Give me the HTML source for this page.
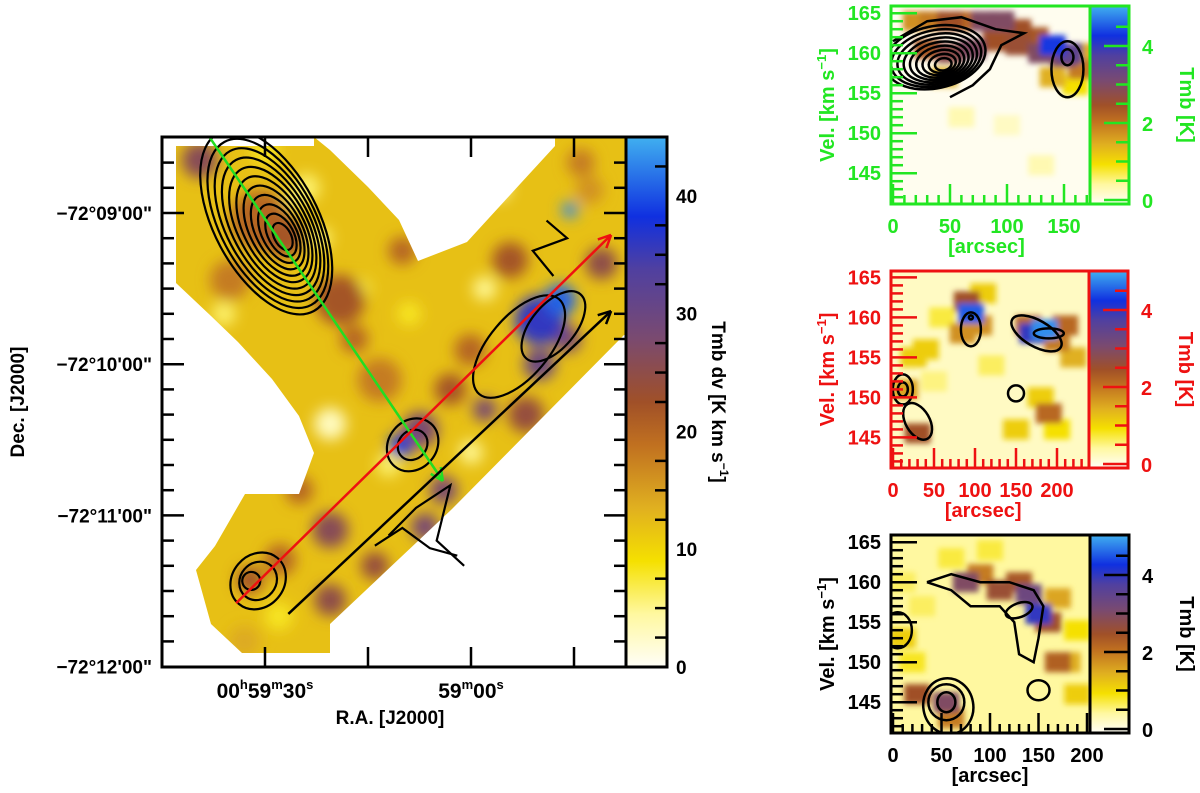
<!DOCTYPE html>
<html><head><meta charset="utf-8"><style>
html,body{margin:0;padding:0;background:#fff;}
svg{display:block;font-family:"Liberation Sans",sans-serif;font-weight:bold;}
</style></head><body>
<svg id="fig" width="1200" height="793" viewBox="0 0 1200 793" xmlns="http://www.w3.org/2000/svg">
<defs>
<filter id="blur" x="-50%" y="-50%" width="200%" height="200%"><feGaussianBlur stdDeviation="7"/></filter>
<filter id="blurS" x="-50%" y="-50%" width="200%" height="200%"><feGaussianBlur stdDeviation="3"/></filter>
<clipPath id="cMain"><rect x="162" y="137" width="464" height="530"/></clipPath>
<clipPath id="cP1"><rect x="891" y="6" width="199" height="198"/></clipPath>
<clipPath id="cP2"><rect x="891" y="271" width="198" height="197"/></clipPath>
<clipPath id="cP3"><rect x="891" y="535" width="199" height="198"/></clipPath>
<linearGradient id="cbg" x1="0" y1="1" x2="0" y2="0">
<stop offset="0" stop-color="#fffef8"/><stop offset="0.1" stop-color="#fff8a0"/><stop offset="0.2" stop-color="#f5e000"/><stop offset="0.3" stop-color="#e0b020"/><stop offset="0.42" stop-color="#c07020"/><stop offset="0.5" stop-color="#a05028"/><stop offset="0.62" stop-color="#7a4a70"/><stop offset="0.75" stop-color="#5040a0"/><stop offset="0.85" stop-color="#1030e0"/><stop offset="1" stop-color="#40b0f0"/>
</linearGradient>
</defs>
</svg>
<script>
// ---------- data ----------
const decTickLabels = ["\u221272\u00b009'00\"","\u221272\u00b010'00\"","\u221272\u00b011'00\"","\u221272\u00b012'00\""];
const decTickValues = [0,60,120,180];
const raTickValues = [30,15,0,-15];
const mainCbTicks = [0,10,20,30,40];
const mainBase = 12;
// main map emission blobs: RA seconds, Dec offset arcsec, value
const blobRa  = [30.7,39.5,19.1,35.1,13.3,7.4,10.3,-10.0,-13.0,-14.4,-5.7,-17.3,20.5,27.8,20.5,32.2,0.1,6.7,20.5,27.2,24,-8, 36,30,22,17,3,-2,-16,-19,12,25,14,4,-10,0,9,16,33,28,-14,-4,26,10,-2];
const blobDec = [2.8,-21,34.5,26.6,66.3,86,92.5,42.5,34.5,-1.2,18.7,-9.1,125.8,137.7,153.6,145.6,54.4,124.6,83.7,9.9,-10,80, 40,-25,10,50,70,30,-20,20,100,110,140,110,60,95,40,30,170,160,50,-10,-5,15,78];
const blobVal = [20,26,22,18,18,28,38,36,41,43,22,16,26,20,25,22,20,28,3,22,6,24, 6,8,6,20,22,5,18,25,6,20,24,28,30,5,8,7,14,8,28,4,6,20,28];
const blobR   = [30,18,25,20,22,18,12,25,16,8,18,14,18,16,16,14,16,14,16,20,14,18, 12,14,12,14,16,12,14,16,12,14,14,14,16,12,12,10,16,14,14,12,10,14,12];
const contourLevelsUL = [1,2,3,4,5,6,7,8,9,10,11];
const arrowGreen = [[38,-29.8],[4.1,106.3]];
const arrowRed = [[34.2,154.8],[-20.4,8.7]];
const arrowBlack = [[26.6,159.1],[-20.4,38.9]];
// panel 1 (green)
const p1Arc = [20,35,50,65,80,95,110,125,140,155,165,30,50,70,90,110,130,150,165,45,140,160,60,100,130];
const p1Vel = [164,164,164,164,164,164,163,162,161,160,160,160.5,160,160.5,161.5,161,160,159.5,158,157,157,156,152,151,146];
const p1Val = [1.8,2,2.5,2.2,3,3,2.5,2.4,4.3,3.5,1.5,2.4,2.8,3,2.5,2.6,3,3,2,1.5,1.5,1,0.4,0.3,0.4];
// panel 2 (red)
const p2Arc = [95,90,185,170,200,220,30,15,190,110,40,150,85,105,165,210,60,25,50,120,180,200];
const p2Vel = [160.5,162,158.5,158,157,155,145.5,151,148,163,156,146,158,159,159,159,160,155,152,154,150,146];
const p2Val = [4.5,2.5,4.8,4,2,1.5,2.5,1.6,2.2,1.2,1.2,1.2,1.8,1.8,2.2,2.2,0.8,1.2,0.6,0.7,1.2,1];
// panel 3 (black)
const p3Arc = [75,110,140,150,160,170,25,55,60,180,130,10,90,60,30,100,170,190,20,80,120,190,10];
const p3Vel = [160,159,158.5,156,155,150,146,145,143,150,160,153,161,163,157,164,158,154,150,152,150,146,160];
const p3Val = [3,2.6,3.3,4,2.5,2.3,2.5,3,2,1.5,2.4,1.2,2,0.8,0.7,0.8,1.6,1,0.9,0.5,0.5,1.2,0.7];
const panelCbTicks = [0,2,4];
const p1XTicks=[0,50,100,150], p2XTicks=[0,50,100,150,200], p3XTicks=[0,50,100,150,200];
const velTicks=[145,150,155,160,165];

// ---------- helpers ----------
const svg=document.getElementById('fig');
const NS='http://www.w3.org/2000/svg';
function mk(tag,attrs,parent){const e=document.createElementNS(NS,tag);for(const k in attrs)e.setAttribute(k,attrs[k]);(parent||svg).appendChild(e);return e;}
const stops=[[0,[255,254,248]],[0.1,[255,248,160]],[0.2,[245,224,0]],[0.3,[224,176,32]],[0.42,[192,112,32]],[0.5,[160,80,40]],[0.62,[122,74,112]],[0.75,[80,64,160]],[0.85,[16,48,224]],[1,[64,176,240]]];
function cmap(t){t=Math.max(0,Math.min(1,t));for(let i=1;i<stops.length;i++){if(t<=stops[i][0]){const a=stops[i-1],b=stops[i],f=(t-a[0])/(b[0]-a[0]);return 'rgb('+a[1].map((c,j)=>Math.round(c+(b[1][j]-c)*f)).join(',')+')';}}return 'rgb(64,176,240)';}
const mx=s=>471-s*6.867, my=d=>213+d*2.52;
const cbY=v=>667-v*(530/45);

// ---------- main map ----------
const gMap=mk('g',{'clip-path':'url(#cMain)'});


mk('rect',{x:162,y:137,width:464,height:530,fill:cmap(mainBase/45)},gMap);
const gBl=mk('g',{filter:'url(#blur)'},gMap);
const order=blobVal.map((v,i)=>i).sort((a,b)=>blobVal[a]-blobVal[b]);
order.forEach(i=>{const c=mk('circle',{cx:mx(blobRa[i]),cy:my(blobDec[i]),r:blobR[i],fill:cmap(blobVal[i]/45)},gBl);

});
const notches=["162,137 314,137 314,146 176,146 176,283 162,283","314,137 555,137 555,146 521,183 467,242 418,261 399,220 368,187 330,150",
"162,283 176,283 211,316 238,342 272,379 299,416 314,453 299,494 245,494 215,546 196,570 162,570",
"162,570 196,570 211,624 242,653 242,667 162,667","242,667 242,653 330,653 330,624 452,509 624,335 626,335 626,667"];
notches.forEach(p=>{const n=mk('polygon',{points:p,fill:'#fff'},gMap);

});
const gC=mk('g',{fill:'none',stroke:'#000','stroke-width':2.2},gMap);


contourLevelsUL.forEach((l,k)=>{const f=1-k/11;const cx=mx(27.2)-f*18,cy=my(9.9)-f*16;const e=mk('ellipse',{cx,cy,rx:95*f+6,ry:48*f+4,transform:`rotate(62 ${cx} ${cy})`},gC);

});
[[31,146,30,26],[31,146,20,18],[32,146,9,9],[8.5,92,28,24],[8.5,92,16,14],[-12,45,42,22],[-7,53,62,30]].forEach(c=>{
const e=mk('ellipse',{cx:mx(c[0]),cy:my(c[1]),rx:c[2],ry:c[3],transform:`rotate(-50 ${mx(c[0])} ${my(c[1])})`},gC);

});
mk('polyline',{points:`${mx(12)},${my(128)} ${mx(8)},${my(117)} ${mx(3)},${my(108)} ${mx(5)},${my(130)} ${mx(1)},${my(140)}`},gC);
mk('polyline',{points:`${mx(14)},${my(132)} ${mx(10)},${my(125)} ${mx(6)},${my(133)} ${mx(2)},${my(136)}`},gC);
mk('polyline',{points:`${mx(-11)},${my(3)} ${mx(-14)},${my(10)} ${mx(-9)},${my(15)} ${mx(-12)},${my(25)}`},gC);
function arrow(a,col,name){const x1=mx(a[0][0]),y1=my(a[0][1]),x2=mx(a[1][0]),y2=my(a[1][1]);
const g=mk('g',{stroke:col,'stroke-width':2.5,fill:'none'},svg);


mk('line',{x1,y1,x2,y2},g);const ang=Math.atan2(y2-y1,x2-x1);
[0.45,-0.45].forEach(d=>mk('line',{x1:x2,y1:y2,x2:x2-14*Math.cos(ang+d),y2:y2-14*Math.sin(ang+d)},g));}
arrow(arrowGreen,'#22dd22','green-arrow');arrow(arrowRed,'#ee1111','red-arrow');arrow(arrowBlack,'#000','black-arrow');
const fr=mk('rect',{x:162,y:137,width:464,height:530,fill:'none',stroke:'#000','stroke-width':3});


for(let d=-30;d<=200;d+=10){const y=my(d);if(y<140||y>664)continue;const L=(d%60===0)?22:12;
mk('line',{x1:162,y1:y,x2:162+L,y2:y,stroke:'#000','stroke-width':2.5});mk('line',{x1:626,y1:y,x2:626-L,y2:y,stroke:'#000','stroke-width':2.5});}
raTickValues.forEach(s=>{const x=mx(s);mk('line',{x1:x,y1:137,x2:x,y2:157,stroke:'#000','stroke-width':2.5});mk('line',{x1:x,y1:667,x2:x,y2:647,stroke:'#000','stroke-width':2.5});});
decTickValues.forEach((d,i)=>{const t=mk('text',{x:152,y:my(d)+7,'text-anchor':'end','font-size':19,fill:'#000'});t.textContent=decTickLabels[i];

});
function raLab(x,parts){const t=mk('text',{x,y:698,'text-anchor':'middle','font-size':21});
parts.forEach(p=>{const s=mk('tspan',p[1]?{'font-size':13,dy:-9}:{dy:9*(p[2]||0)},t);s.textContent=p[0];});}
raLab(mx(30),[["00"],["h",1],["59",0,1],["m",1],["30",0,1],["s",1]]);
raLab(mx(0),[["59"],["m",1],["00",0,1],["s",1]]);
let t=mk('text',{x:390,y:724,'text-anchor':'middle','font-size':19});t.textContent='R.A. [J2000]';

t=mk('text',{x:0,y:0,'text-anchor':'middle','font-size':19,transform:'translate(24,402) rotate(-90)'});t.textContent='Dec. [J2000]';

const cb=mk('rect',{x:626,y:137,width:41,height:530,fill:'url(#cbg)',stroke:'#000','stroke-width':3});

for(let v=0;v<=45;v+=2.5){const y=cbY(v);if(v%10!==0)mk('line',{x1:667,y1:y,x2:655,y2:y,stroke:'#000','stroke-width':2.5});}
mainCbTicks.forEach(v=>{const tt=mk('text',{x:676,y:cbY(v)+7,'font-size':19});tt.textContent=v;
});
t=mk('text',{x:0,y:0,'text-anchor':'middle','font-size':19,transform:'translate(712,402) rotate(90)'});
t.innerHTML='Tmb dv [K km s<tspan font-size="12" dy="-8">\u22121</tspan><tspan dy="8">]</tspan>';


// ---------- small panels ----------
function panel(o){
const {x0,y0,w,h,col,arc,vel,val,xt,aScale,vTop,clip,name}=o;
const px=a=>893+a*aScale, py=v=>y0+(vTop-v)*8;
const g=mk('g',{'clip-path':`url(#${clip})`});

mk('rect',{x:x0,y:y0,width:w,height:h,fill:cmap(o.base/5)},g);
const gb=mk('g',{filter:'url(#blurS)'},g);
val.map((v,i)=>i).sort((a,b)=>val[a]-val[b]).forEach(i=>{const r=mk('rect',{x:px(arc[i])-13,y:py(vel[i])-10,width:26,height:20,fill:cmap(val[i]/5)},gb);
});
const gc=mk('g',{fill:'none',stroke:'#000','stroke-width':2.5},g);
(o.cont||[]).forEach(c=>{const e=mk('ellipse',{cx:px(c[0]),cy:py(c[1]),rx:c[2],ry:c[3]},gc);e.setAttribute('transform',`rotate(${c[4]||0} ${px(c[0])} ${py(c[1])})`);});
(o.lines||[]).forEach(L=>mk('polyline',{points:L.map(p=>px(p[0])+','+py(p[1])).join(' ')},gc));
const f=mk('rect',{x:x0,y:y0,width:w,height:h,fill:'none',stroke:col,'stroke-width':3});

for(let v=141;v<=166;v++){const y=py(v);if(y<y0+2||y>y0+h-2)continue;const L=v%5===0?26:12;mk('line',{x1:x0,y1:y,x2:x0+L,y2:y,stroke:col,'stroke-width':2.5});}
for(let a=0;a<=240;a+=10){const x=px(a);if(x<x0+2||x>x0+w-2)continue;const L=a%50===0?20:9;mk('line',{x1:x,y1:y0+h,x2:x,y2:y0+h-L,stroke:col,'stroke-width':2.5});}
velTicks.forEach(v=>{const y=py(v);if(y<y0-2||y>y0+h)return;const tt=mk('text',{x:881,y:y+7,'text-anchor':'end','font-size':20,fill:col});tt.textContent=v;
});
xt.forEach(a=>{const tt=mk('text',{x:px(a),y:y0+h+29,'text-anchor':'middle','font-size':20,fill:col});tt.textContent=a;
});
let tt=mk('text',{x:px(o.xtitle),y:y0+h+49,'text-anchor':'middle','font-size':20,fill:col});tt.textContent='[arcsec]';

tt=mk('text',{x:0,y:0,'text-anchor':'middle','font-size':20,fill:col,transform:`translate(834,${y0+h/2}) rotate(-90)`});
tt.innerHTML='Vel. [km s<tspan font-size="13" dy="-8">\u22121</tspan><tspan dy="8">]</tspan>';

const cbx=x0+w, cby=y=>y0+h-4-y*38.5;
const c=mk('rect',{x:cbx,y:y0,width:39,height:h,fill:'url(#cbg)',stroke:col,'stroke-width':3});

for(let v=0;v<=5;v+=0.5){const y=cby(v);if(y<y0+2)continue;mk('line',{x1:cbx+39,y1:y,x2:cbx+(v%2===0?14:26),y2:y,stroke:col,'stroke-width':2.5});}
panelCbTicks.forEach(v=>{const tx=mk('text',{x:cbx+52,y:cby(v)+8,'font-size':20,fill:col});tx.textContent=v;
});
tt=mk('text',{x:0,y:0,'text-anchor':'middle','font-size':20,fill:col,transform:`translate(${cbx+90},${y0+h/2}) rotate(90)`});tt.textContent='Tmb [K]';

}
const c1=[];for(let k=0;k<9;k++){const f=1-k/9;c1.push([45-f*8,158.5+f*1,48*f+3,28*f+3,-12]);}
c1.push([153,158,16,28,0],[153,159.5,6,8,0]);
panel({x0:891,y0:6,w:199,h:198,col:'#22e622',base:0.05,arc:p1Arc,vel:p1Vel,val:p1Val,xt:p1XTicks,aScale:1.14,vTop:165.9,clip:'cP1',name:'green-pv-panel',xtitle:82,cont:c1,
lines:[[[0,161.5],[30,164],[60,164.5],[90,163],[115,162.5],[95,161],[85,158],[70,156],[50,154.5]]]});
panel({x0:891,y0:271,w:198,h:197,col:'#ee1111',base:0.3,arc:p2Arc,vel:p2Vel,val:p2Val,xt:p2XTicks,aScale:0.82,vTop:165.8,clip:'cP2',name:'red-pv-panel',xtitle:110,
cont:[[95,158.5,10,17,0],[95,160,2,2,0],[175,158,28,13,30],[190,158,15,5,0],[12,151,10,15,0],[12,151,5,7,0],[30,147,12,20,-30],[150,150.5,8,8,0]]});
panel({x0:891,y0:535,w:199,h:198,col:'#000',base:0.5,arc:p3Arc,vel:p3Vel,val:p3Val,xt:p3XTicks,aScale:0.97,vTop:165.9,clip:'cP3',name:'black-pv-panel',xtitle:100,
cont:[[55,145,9,10,0],[55,145,18,18,0],[57,144.5,25,28,-10],[5,154,14,18,0],[150,146.5,11,10,0],[130,156.5,14,7,-20]],
lines:[[[35,160],[60,161],[90,160],[120,160],[145,159],[155,157],[150,153],[145,150],[130,151],[125,155],[110,157],[80,157],[60,159],[35,160]]]});
</script>
</body></html>
